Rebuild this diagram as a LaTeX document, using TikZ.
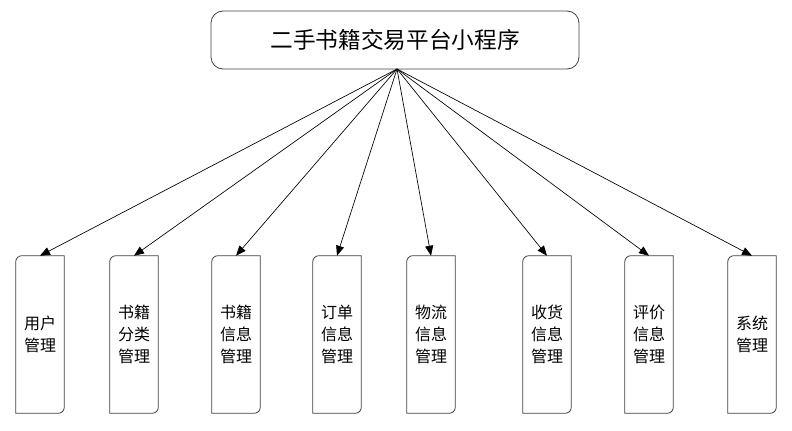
\documentclass[tikz,border=0pt]{standalone}
\usepackage{fontspec}
\setmainfont{Noto Sans CJK SC}
\usetikzlibrary{arrows.meta}

\begin{document}
\begin{tikzpicture}[
    x=0.75pt, y=0.75pt,
    every node/.style={align=center},
    rootbox/.style={rectangle, draw=black!75, line width=0.6pt, rounded corners=9pt, minimum width=276pt, minimum height=43.5pt, font=\fontsize{17}{20}\selectfont},
    modbox/.style={rectangle, minimum width=36pt, minimum height=117.75pt, font=\fontsize{12}{16.5}\selectfont},
    arrow/.style={-{Triangle[length=7.5pt,width=6pt]}, line width=0.5pt, color=black}
]
\useasboundingbox (0,0) rectangle (792,430);

% Root node
\node[rootbox] (root) at (395,390) {二手书籍交易平台小程序};
\coordinate (hub) at (397,361);

% Module nodes
\node[modbox] (user) at (40,95.5) {用户\\管理};
\node[modbox] (category) at (134,95.5) {书籍\\分类\\管理};
\node[modbox] (book) at (236,95.5) {书籍\\信息\\管理};
\node[modbox] (order) at (337,95.5) {订单\\信息\\管理};
\node[modbox] (logistics) at (431,95.5) {物流\\信息\\管理};
\node[modbox] (receipt) at (547,95.5) {收货\\信息\\管理};
\node[modbox] (review) at (649,95.5) {评价\\信息\\管理};
\node[modbox] (system) at (752,95.5) {系统\\管理};

% Outlines (rounded top-left and bottom-right) and arrows
\foreach \m in {user,category,book,order,logistics,receipt,review,system} {
    \draw[black!75, line width=0.6pt]
        ([xshift=4.5pt]\m.north west) -- (\m.north east)
        -- ([yshift=4.5pt]\m.south east) arc[start angle=0, end angle=-90, radius=4.5pt]
        -- (\m.south west)
        -- ([yshift=-4.5pt]\m.north west) arc[start angle=180, end angle=90, radius=4.5pt]
        -- cycle;
    \draw[arrow] (hub) -- (\m.north);
}

\end{tikzpicture}
\end{document}
